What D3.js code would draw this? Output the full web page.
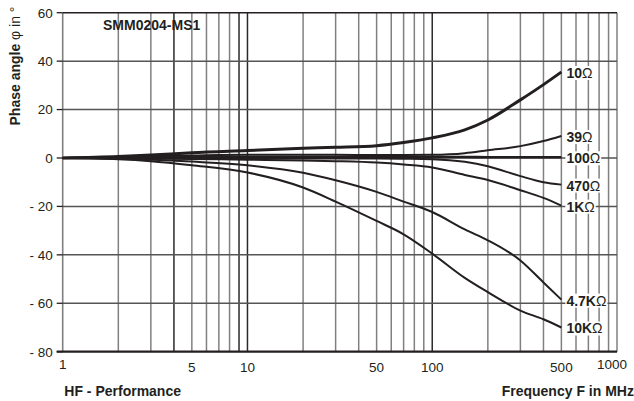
<!DOCTYPE html>
<html>
<head>
<meta charset="utf-8">
<script src="https://cdn.jsdelivr.net/npm/d3@7"></script>
<style>
  html, body { margin: 0; padding: 0; background: #fff; }
  svg { display: block; font-family: "Liberation Sans", Arial, Helvetica, sans-serif; }
</style>
</head>
<body>
<svg id="chart" width="634" height="401"></svg>
<script>
// ---------- data ----------
const freqs = [1, 2, 3, 5, 10, 20, 30, 50, 70, 100, 150, 200, 300, 400, 500];
const r10   = [0, 0.6, 1.2, 2.2, 3.1, 4.0, 4.4, 5.1, 6.4, 8.3, 11.6, 15.7, 24.0, 30.3, 35.5];
const r39   = [0, 0.4, 0.7, 1.0, 1.3, 1.3, 1.3, 1.2, 1.2, 1.3, 2.0, 3.2, 4.9, 7.0, 9.1];
const r100  = [0, 0.2, 0.3, 0.4, 0.4, 0.4, 0.4, 0.4, 0.4, 0.4, 0.4, 0.3, 0.3, 0.3, 0.3];
const r470  = [0, 0, -0.1, -0.2, -0.2, -0.2, -0.2, -0.2, -0.3, -0.5, -1.6, -3.4, -7.5, -10, -11];
const r1k   = [0, -0.1, -0.2, -0.4, -0.7, -1.0, -1.3, -1.9, -2.7, -3.9, -7.0, -9.1, -13.3, -16.5, -19.7];
const r4k7  = [0, -0.3, -0.7, -1.5, -3.0, -6.1, -9.2, -14, -18, -22.3, -29.5, -34, -42.3, -51.4, -58.5];
const r10k  = [0, -0.5, -1.3, -3.0, -6.0, -12.2, -18, -26, -31.5, -39.5, -49.5, -55.4, -63, -66.6, -70];

const seriesNames  = ["10", "39", "100", "470", "1K", "4.7K", "10K"];
const seriesValues = [r10, r39, r100, r470, r1k, r4k7, r10k];
const seriesWidths = [3, 2, 2.6, 2, 2, 2, 2];

const yTicks = [60, 40, 20, 0, -20, -40, -60, -80];
const xTickLabels = [1, 5, 10, 50, 100, 500, 1000];
const xGrid = [2,3,4,5,6,7,8,9,10,20,30,40,50,60,70,80,90,100,200,300,400,500,600,700,800,900];
const xGridDark = [4, 9, 10, 100];

const chartTitle = "SMM0204-MS1";
const yTitleBold = "Phase angle ";
const yTitleNormal = "φ in °";
const bottomLeft = "HF - Performance";
const xTitle = "Frequency F in MHz";

// ---------- layout ----------
const svg = d3.select("#chart");
const L = 62.7, R = 617, T = 12.7, B = 351.7;
const x = d3.scaleLog().domain([1, 1000]).range([L, R]);
const y = d3.scaleLinear().domain([-80, 60]).range([B, T]);
const ink = "#231f20";

// vertical grid
svg.append("g").selectAll("line").data(xGrid).join("line")
  .attr("x1", d => x(d)).attr("x2", d => x(d))
  .attr("y1", T).attr("y2", B)
  .attr("stroke", d => xGridDark.includes(d) ? "#2a2a2a" : "#808080")
  .attr("stroke-width", 1.5);

// left & right border
svg.append("line").attr("x1", L).attr("x2", L).attr("y1", T).attr("y2", B)
  .attr("stroke", "#808080").attr("stroke-width", 1.6);
svg.append("line").attr("x1", R).attr("x2", R).attr("y1", T).attr("y2", B)
  .attr("stroke", "#808080").attr("stroke-width", 1.5);

// horizontal grid
svg.append("g").selectAll("line").data(yTicks.filter(v => v !== 60 && v !== -80)).join("line")
  .attr("x1", L).attr("x2", R)
  .attr("y1", d => y(d)).attr("y2", d => y(d))
  .attr("stroke", "#555").attr("stroke-width", 1.5);

// top border
svg.append("line").attr("x1", L).attr("x2", R).attr("y1", y(60)).attr("y2", y(60))
  .attr("stroke", ink).attr("stroke-width", 1.5);

// left tick marks
svg.append("g").selectAll("line").data(yTicks).join("line")
  .attr("x1", L - 6).attr("x2", L)
  .attr("y1", d => y(d)).attr("y2", d => y(d))
  .attr("stroke", ink).attr("stroke-width", 1.3);

// y tick labels
svg.append("g").selectAll("text").data(yTicks).join("text")
  .attr("x", 52.7).attr("y", d => y(d))
  .attr("dy", "0.36em")
  .attr("text-anchor", "end")
  .attr("font-size", 13.5).attr("fill", ink)
  .text(d => d < 0 ? "- " + Math.abs(d) : String(d));

// x tick labels
svg.append("g").selectAll("text").data(xTickLabels).join("text")
  .attr("x", d => d === 1000 ? x(d) + 10 : x(d))
  .attr("y", d => (d === 1 || d === 1000) ? 369.3 : 371.7)
  .attr("text-anchor", d => d === 1000 ? "end" : "middle")
  .attr("font-size", 13.5).attr("fill", ink)
  .text(d => d);

// curves
const line = d3.line()
  .x(d => x(d[0])).y(d => y(d[1]))
  .curve(d3.curveMonotoneX);

svg.append("g").selectAll("path").data(seriesValues).join("path")
  .attr("d", vals => line(freqs.map((f, i) => [f, vals[i]])))
  .attr("fill", "none")
  .attr("stroke", ink)
  .attr("stroke-width", (d, i) => seriesWidths[i])
  .attr("stroke-linejoin", "round");

// bottom axis (thick)
svg.append("line").attr("x1", L - 6).attr("x2", R).attr("y1", B).attr("y2", B)
  .attr("stroke", ink).attr("stroke-width", 2.3);

// curve labels with white background
const labG = svg.append("g");
seriesValues.forEach((vals, i) => {
  const g = labG.append("g");
  const t = g.append("text")
    .attr("x", x(freqs[freqs.length - 1]) + 5)
    .attr("y", y(vals[vals.length - 1]) + 6)
    .attr("font-size", 14).attr("fill", ink);
  t.append("tspan").attr("font-weight", "bold").text(seriesNames[i]);
  t.append("tspan").attr("font-weight", "normal").text("Ω");
  const bb = t.node().getBBox();
  g.insert("rect", "text")
    .attr("x", bb.x - 1).attr("y", bb.y + 1)
    .attr("width", bb.width + 2).attr("height", bb.height - 2)
    .attr("fill", "#fff");
});

// chart title
svg.append("text").attr("x", 103).attr("y", 29.7)
  .attr("font-size", 14).attr("font-weight", "bold").attr("fill", ink)
  .text(chartTitle);

// y-axis title
const yt = svg.append("text")
  .attr("transform", "translate(20,66) rotate(-90)")
  .attr("text-anchor", "middle")
  .attr("font-size", 14).attr("fill", ink);
yt.append("tspan").attr("font-weight", "bold").text(yTitleBold);
yt.append("tspan").attr("font-weight", "normal").text(yTitleNormal);

// bottom texts
svg.append("text").attr("x", 64.3).attr("y", 395.5)
  .attr("font-size", 14).attr("font-weight", "bold").attr("fill", ink)
  .text(bottomLeft);
svg.append("text").attr("x", 501.7).attr("y", 395.5)
  .attr("font-size", 14).attr("font-weight", "bold").attr("fill", ink)
  .text(xTitle);
</script>
</body>
</html>
